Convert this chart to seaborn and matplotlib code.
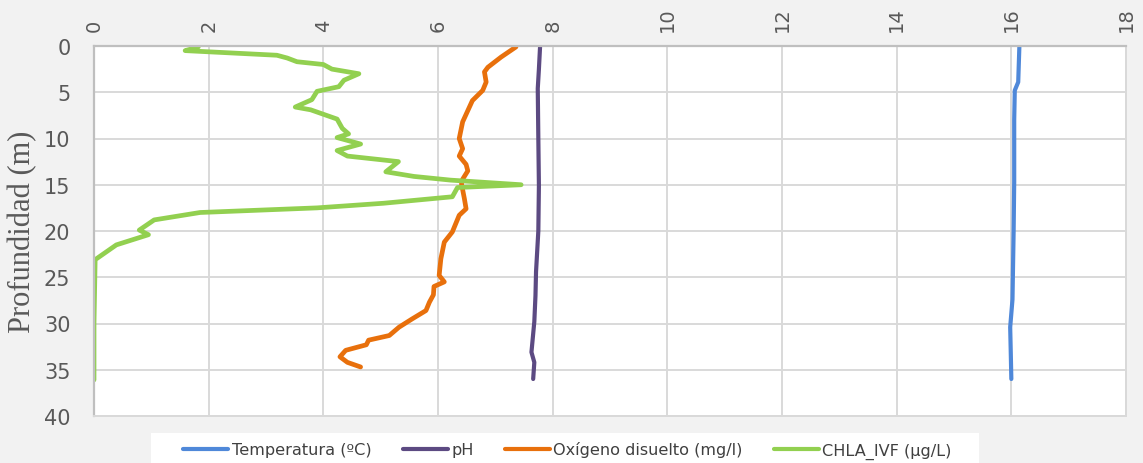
import seaborn as sns
import matplotlib.pyplot as plt
import pandas as pd
from matplotlib.patches import Rectangle

# Profiles (value, depth in m)
temp_val = [16.14, 16.13, 16.12, 16.06, 16.05, 16.05, 16.04, 16.02, 15.98, 15.99, 16.00]
temp_depth = [0.1, 2.0, 3.9, 4.8, 8.0, 14.7, 20.0, 27.4, 30.4, 33.1, 36.0]

ph_val = [7.78, 7.76, 7.74, 7.75, 7.76, 7.75, 7.71, 7.70, 7.68, 7.63, 7.68, 7.66]
ph_depth = [0.1, 2.5, 4.6, 10.0, 15.1, 20.0, 24.4, 27.0, 29.8, 33.1, 34.2, 36.0]

ox_val = [7.36, 7.10, 6.87, 6.81, 6.84, 6.78, 6.60, 6.43, 6.37, 6.43, 6.37, 6.49,
          6.52, 6.43, 6.41, 6.46, 6.49, 6.37, 6.25, 6.11, 6.05, 6.02, 6.11, 5.93,
          5.92, 5.85, 5.79, 5.55, 5.32, 5.15, 4.79, 4.75, 4.39, 4.29, 4.42, 4.65]
ox_depth = [0.1, 1.2, 2.3, 2.8, 3.9, 4.8, 5.9, 8.2, 10.0, 11.1, 11.9, 12.8,
            13.5, 14.4, 14.9, 16.5, 17.6, 18.3, 20.1, 21.2, 23.0, 24.8, 25.5, 26.0,
            26.9, 27.7, 28.6, 29.5, 30.4, 31.3, 31.8, 32.3, 32.9, 33.6, 34.2, 34.7]

chla_val = [1.82, 1.59, 3.19, 3.37, 3.54, 4.00, 4.15, 4.62, 4.36, 4.27, 3.89, 3.80,
            3.51, 3.78, 4.24, 4.33, 4.44, 4.24, 4.65, 4.24, 4.42, 5.31, 5.09, 5.58,
            6.22, 7.45, 6.34, 6.25, 5.05, 3.89, 1.85, 1.05, 0.79, 0.95, 0.39, 0.02,
            0.00, 0.00]
chla_depth = [0.1, 0.5, 1.0, 1.3, 1.7, 2.0, 2.5, 3.0, 3.7, 4.4, 4.9, 5.8,
              6.6, 6.9, 7.9, 8.9, 9.5, 9.9, 10.6, 11.3, 11.9, 12.5, 13.6, 14.1,
              14.5, 15.0, 15.3, 16.3, 17.0, 17.5, 18.0, 18.8, 19.9, 20.4, 21.5, 23.1,
              30.0, 36.1]

series = ['Temperatura (ºC)', 'pH', 'Oxígeno disuelto (mg/l)', 'CHLA_IVF (µg/L)']
colors = ['#4f88d9', '#5c4a82', '#e8700c', '#92d050']
widths = [3.0, 3.0, 3.4, 3.4]

frames = []
for name, v, d in zip(series, [temp_val, ph_val, ox_val, chla_val],
                      [temp_depth, ph_depth, ox_depth, chla_depth]):
    frames.append(pd.DataFrame({'serie': name, 'valor': v, 'prof': d}))
df = pd.concat(frames, ignore_index=True)

sns.set_style('white')
plt.rcParams['font.family'] = ['Liberation Sans Narrow', 'DejaVu Sans']

W, H = 1143, 464
fig = plt.figure(figsize=(W / 100, H / 100), dpi=100, facecolor='#f2f2f2')
ax = fig.add_axes([94 / W, 1 - 417 / H, 1032 / W, 370 / H])
ax.set_facecolor('white')

for name, col, lw in zip(series, colors, widths):
    sub = df[df['serie'] == name]
    sns.lineplot(data=sub, x='valor', y='prof', sort=False, estimator=None,
                 orient='y', color=col, linewidth=lw, label=name, ax=ax,
                 solid_capstyle='round', solid_joinstyle='round')

ax.set_xlim(0, 18)
ax.set_ylim(40, 0)
ax.set_xticks(range(0, 19, 2))
ax.set_yticks(range(0, 41, 5))
ax.xaxis.tick_top()
ax.tick_params(axis='x', labelrotation=90, length=0, pad=11, labelsize=14, labelcolor='#595959')
ax.tick_params(axis='y', length=0, pad=17, labelsize=15, labelcolor='#595959')
ax.grid(True, color='#d9d9d9', linewidth=1.4)
ax.set_axisbelow(True)
for s in ['right', 'bottom']:
    ax.spines[s].set_color('#d9d9d9')
    ax.spines[s].set_linewidth(1.4)
for s in ['left', 'top']:
    ax.spines[s].set_color('#bfbfbf')
    ax.spines[s].set_linewidth(1.6)

ax.set_xlabel('')
ax.set_ylabel('Profundidad (m)', family='Liberation Serif', fontsize=22,
              color='#595959', labelpad=5)

# white legend band at the bottom
fig.patches.append(Rectangle((151 / W, 0), 828 / W, 30 / H, transform=fig.transFigure,
                             facecolor='white', edgecolor='none', zorder=0))

ax.get_legend().remove()
handles, labels = ax.get_legend_handles_labels()
leg = fig.legend(handles, labels, loc='center', bbox_to_anchor=(567.5 / W, 1 - 451 / H),
                 ncol=4, frameon=False, fontsize=11.6,
                 handlelength=2.8, handletextpad=0.2, columnspacing=1.95,
                 labelcolor='#404040')
for h in leg.get_lines():
    h.set_linewidth(3)
    h.set_solid_capstyle('round')

fig.savefig('out.png', dpi=100, facecolor=fig.get_facecolor())
plt.close(fig)
